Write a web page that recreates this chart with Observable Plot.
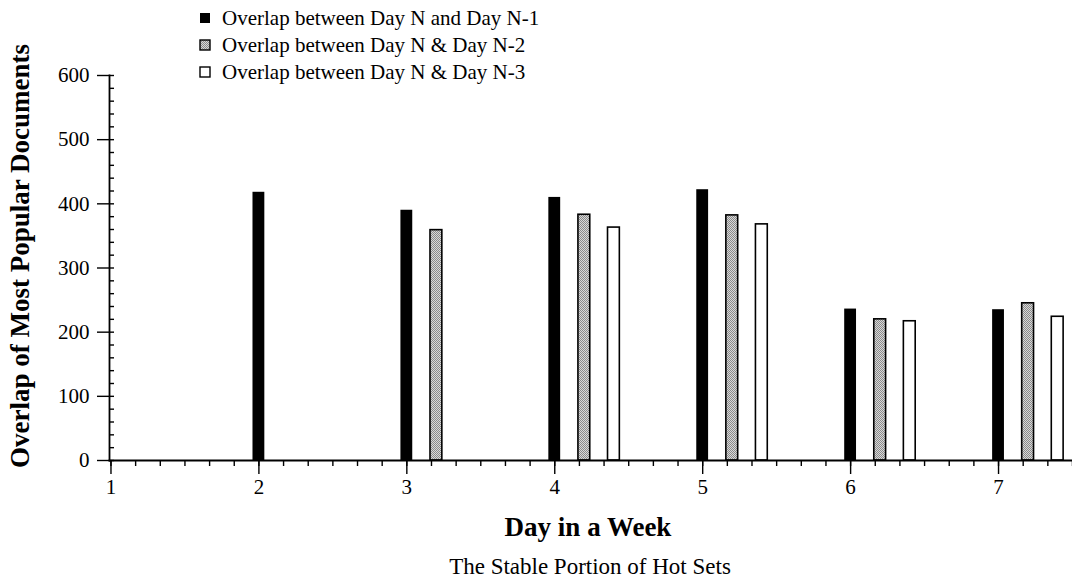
<!DOCTYPE html>
<html>
<head>
<meta charset="utf-8">
<script src="https://cdn.jsdelivr.net/npm/d3@7"></script>
<script src="https://cdn.jsdelivr.net/npm/@observablehq/plot@0.6"></script>
<style>
  body { margin: 0; background: #fff; }
  #wrap { position: relative; width: 1072px; height: 584px; }
  #wrap > svg { position: absolute; left: 0; top: 0; }
  #wrap svg text { font-family: "Liberation Serif", "Times New Roman", serif !important; fill: #000; }
</style>
</head>
<body>
<div id="wrap"></div>
<script>
// ---- data ----
const days = [2, 3, 4, 5, 6, 7];
const overlapN1 = [418, 390, 410, 422, 236, 235];
const overlapN2 = [null, 359, 383, 382, 220, 245];
const overlapN3 = [null, null, 363, 368, 217, 224];
const seriesNames = [
  "Overlap between Day N and Day N-1",
  "Overlap between Day N & Day N-2",
  "Overlap between Day N & Day N-3"
];
const xTicks = [1, 2, 3, 4, 5, 6, 7];
const yTicks = [0, 100, 200, 300, 400, 500, 600];
const xTitle = "Day in a Week";
const yTitle = "Overlap of Most Popular Documents";
const caption = "The Stable Portion of Hot Sets";

// ---- build ----
const seriesValues = [overlapN1, overlapN2, overlapN3];
const fills = ["#000", "url(#stip)", "#fff"];
const offset = 0.2;   // spacing between series within a day
const half = 0.04;    // half bar width (x units)

const rows = [];
seriesValues.forEach((vals, s) => {
  days.forEach((d, i) => {
    if (vals[i] != null) rows.push({day: d, s, value: vals[i]});
  });
});

const W = 1072, H = 584, mL = 109, mR = 0, mT = 75, mB = 124;
const FONT = "Liberation Serif";
const xMinor = d3.range(1, 7.5 + 1e-9, 1 / 6);
const yMinor = d3.range(0, 600 + 1e-9, 20);

const barMarks = [0, 1, 2].map(s =>
  Plot.rectY(rows.filter(r => r.s === s), {
    x1: r => r.day + r.s * offset - half,
    x2: r => r.day + r.s * offset + half,
    y1: 0,
    y2: "value",
    fill: fills[s],
    stroke: "#000",
    strokeWidth: s === 0 ? 0 : 1.6
  })
);

const chart = Plot.plot({
  width: W,
  height: H,
  marginLeft: mL,
  marginRight: mR,
  marginTop: mT,
  marginBottom: mB,
  style: {fontFamily: FONT + ", serif", fontSize: "21px", color: "#000", background: "transparent"},
  x: {domain: [0.99, 7.5]},
  y: {domain: [0, 600]},
  marks: [
    ...barMarks,
    Plot.axisX({ticks: xMinor, tickSize: 6, text: null, strokeWidth: 1.4, label: null}),
    Plot.axisX({ticks: xTicks, tickSize: 14, tickPadding: 5, tickFormat: d3.format("d"), strokeWidth: 1.4, fontSize: 21, fontFamily: FONT, label: null}),
    Plot.tickY(yMinor, {y: d => d, insetRight: W - mL - mR - 5, strokeWidth: 1.4}),
    Plot.axisY({ticks: yTicks, tickSize: 12, tickPadding: 8, tickFormat: d3.format("d"), strokeWidth: 1.4, fontSize: 21, fontFamily: FONT, label: null}),
    Plot.frame({anchor: "left", strokeWidth: 1.8}),
    Plot.frame({anchor: "bottom", strokeWidth: 1.8})
  ]
});

d3.select(chart).insert("defs", ":first-child").html(
  `<pattern id="stip" width="2" height="2" patternUnits="userSpaceOnUse">
     <rect width="2" height="2" fill="#d8d8d8"/>
     <rect width="1" height="1" fill="#8a8a8a"/>
     <rect x="1" y="1" width="1" height="1" fill="#8a8a8a"/>
   </pattern>`
);

const wrap = document.getElementById("wrap");
wrap.appendChild(chart);

// ---- overlay: titles, caption, legend ----
const ov = d3.select(wrap).append("svg").attr("width", W).attr("height", H);

ov.append("text")
  .attr("transform", "translate(29,256) rotate(-90)")
  .attr("text-anchor", "middle")
  .attr("font-weight", "bold")
  .attr("font-size", 27)
  .text(yTitle);

ov.append("text")
  .attr("x", 588).attr("y", 536)
  .attr("text-anchor", "middle")
  .attr("font-weight", "bold")
  .attr("font-size", 27)
  .text(xTitle);

ov.append("text")
  .attr("x", 590).attr("y", 574)
  .attr("text-anchor", "middle")
  .attr("font-size", 23)
  .text(caption);

const legendFills = ["#000", "url(#stip)", "#fff"];
seriesNames.forEach((name, i) => {
  const base = 25 + i * 27;
  ov.append("rect")
    .attr("x", 200).attr("y", base - 12).attr("width", 10).attr("height", 10)
    .attr("fill", legendFills[i])
    .attr("stroke", "#000").attr("stroke-width", i === 0 ? 0 : 1.4);
  ov.append("text")
    .attr("x", 222).attr("y", base)
    .attr("font-size", 21)
    .text(name);
});
</script>
</body>
</html>
